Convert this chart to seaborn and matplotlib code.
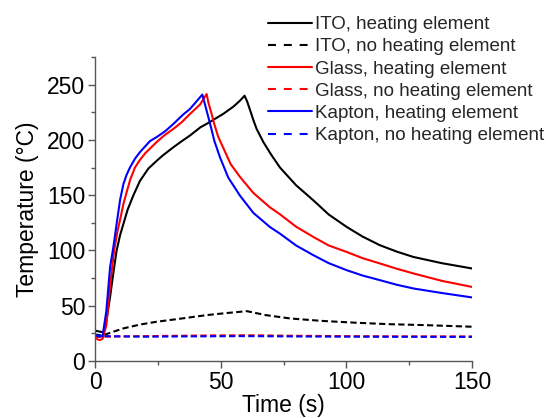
import numpy as np
import pandas as pd
import matplotlib
matplotlib.use("Agg")
import matplotlib.pyplot as plt
import seaborn as sns
from matplotlib.ticker import MultipleLocator

# ---- data ----
labels = ["ITO, heating element", "ITO, no heating element",
          "Glass, heating element", "Glass, no heating element",
          "Kapton, heating element", "Kapton, no heating element"]

ito_heat_t = [0, 2, 3.5, 4.5, 6, 7.2, 8.6, 10, 11.3, 13, 15.3, 17.9, 21.2, 24.5, 27, 31.2,
              34, 37.8, 42, 44.4, 51, 55, 57.7, 59.5,
              60.5, 61.7, 63, 64.3, 67, 70, 73.6, 80, 86.9, 93, 100.2, 106.5, 113.4, 120, 126.7, 138, 150]
ito_heat_y = [27.5, 26.5, 26, 36, 58, 78, 100, 114, 124, 137, 150, 163, 174, 181, 186, 193.4,
              198, 204, 211.5, 214.5, 223.5, 230, 235.5, 240,
              235, 227, 218, 210, 198, 187, 175, 159, 145.3, 132.5, 121.2, 112.5, 104.7, 99, 94.1, 88.5, 83.7]

ito_none_t = [0, 3, 6, 11.3, 18, 24.5, 33, 44.4, 52, 60.4, 68, 77.6, 90, 104, 117, 130.6, 150]
ito_none_y = [24, 23, 25.5, 29.5, 33, 35.5, 38, 41.5, 43.3, 45.1, 41.5, 38.5, 36.3, 34.6, 33.3, 32.5, 31]

glass_heat_t = [0, 1, 2, 3, 4.5, 6, 7.6, 9, 10, 11.3, 12.5, 14, 15.9, 17.9, 20, 24.5, 27.5, 31.2,
                34.5, 37.8, 41.8, 44.4,
                45.2, 46.4, 47.5, 49, 51, 54, 57.7, 63, 69.6, 73.6, 80, 86.9, 93, 100.2, 106.5, 113.4,
                120, 126.7, 138, 150]
glass_heat_y = [22, 19.5, 19, 20, 32, 68, 100, 118, 128, 142, 152, 164, 175, 182, 188, 198, 204, 210,
                216, 223.5, 232, 241.5,
                233, 223.5, 214, 203, 193, 178, 166.5, 152, 139, 132.7, 121.5, 112.2, 104.5, 98.6, 93, 88.2,
                83.5, 79.2, 72.5, 67]

glass_none_t = [0, 3, 20, 40, 60, 80, 100, 120, 150]
glass_none_y = [22, 22, 22.5, 23, 23.3, 22.8, 22.5, 22.3, 22.2]

kapton_heat_t = [0, 1.5, 3, 4.5, 6, 7.3, 8.6, 10, 11.3, 12.5, 13.9, 15.9, 17.9, 21.9, 24.5, 28,
                 31.2, 35.1, 37.8, 42.7,
                 44, 45.8, 47.5, 49.7, 53, 57.7, 63, 69.6, 73.6, 80, 86.9, 93, 100.2, 106.5, 113.4,
                 120, 126.7, 138, 150]
kapton_heat_y = [24, 22, 22.5, 45, 85, 103, 124, 146, 160, 168, 175, 183, 189, 199, 202.5, 208,
                 214.5, 223, 228, 241,
                 230, 214.5, 199, 184.4, 166, 149.5, 134, 121.2, 115.2, 104.5, 95.7, 88.5, 82.1, 77.3, 73.1,
                 69, 65.6, 61.5, 57.5]

kapton_none_t = [0, 3, 20, 40, 60, 80, 100, 120, 150]
kapton_none_y = [23.5, 22.5, 22, 22.3, 22.5, 22.2, 22, 21.9, 21.8]

series_t = [ito_heat_t, ito_none_t, glass_heat_t, glass_none_t, kapton_heat_t, kapton_none_t]
series_y = [ito_heat_y, ito_none_y, glass_heat_y, glass_none_y, kapton_heat_y, kapton_none_y]

colors = ["#000000", "#000000", "#ff0000", "#ff0000", "#0000ff", "#0000ff"]
solid = [True, False, True, False, True, False]

df = pd.concat([pd.DataFrame({"Time": t, "Temp": y, "label": lab})
                for t, y, lab in zip(series_t, series_y, labels)], ignore_index=True)

# ---- style ----
sns.set_theme(style="ticks")
plt.rcParams["font.family"] = ["Liberation Sans", "DejaVu Sans"]

fig = plt.figure(figsize=(5.46, 4.18), dpi=100)
ax = fig.add_axes([95/546, 1 - 361/418, (472-95)/546, (361-57)/418])

palette = dict(zip(labels, colors))
dashes = {lab: ("" if s else (3, 1.6)) for lab, s in zip(labels, solid)}

sns.lineplot(data=df, x="Time", y="Temp", hue="label", style="label",
             hue_order=labels, style_order=labels, palette=palette, dashes=dashes,
             sort=False, estimator=None, linewidth=1.5, ax=ax)

ax.set_xlim(0, 150)
ax.set_ylim(0, 275)
ax.xaxis.set_major_locator(MultipleLocator(50))
ax.xaxis.set_minor_locator(MultipleLocator(25))
ax.yaxis.set_major_locator(MultipleLocator(50))
ax.yaxis.set_minor_locator(MultipleLocator(25))
ax.tick_params(which="both", direction="out", color="#555555", width=1.0, labelsize=16.5, labelcolor="black")
ax.tick_params(which="major", length=5, pad=2)
ax.tick_params(which="minor", length=3)
for side in ["top", "right"]:
    ax.spines[side].set_visible(False)
for side in ["left", "bottom"]:
    ax.spines[side].set_color("#555555")
    ax.spines[side].set_linewidth(1.0)

ax.set_xlabel("Time (s)", fontsize=16.5, color="black", labelpad=0)
ax.set_ylabel("Temperature (°C)", fontsize=16.5, color="black", labelpad=6)

handles, labs = ax.get_legend_handles_labels()
ax.get_legend().remove()
leg = fig.legend(handles, labs, loc="upper left", bbox_to_anchor=(268/546, 1 - 16/418),
                 frameon=False, fontsize=13.5, handlelength=2.35, handletextpad=0.16,
                 labelspacing=0.27, borderpad=0, borderaxespad=0)
for line, s in zip(leg.get_lines(), solid):
    line.set_linewidth(1.5)
    if not s:
        line.set_dashes((3.8, 3.8))

fig.savefig("out.png", dpi=100)
